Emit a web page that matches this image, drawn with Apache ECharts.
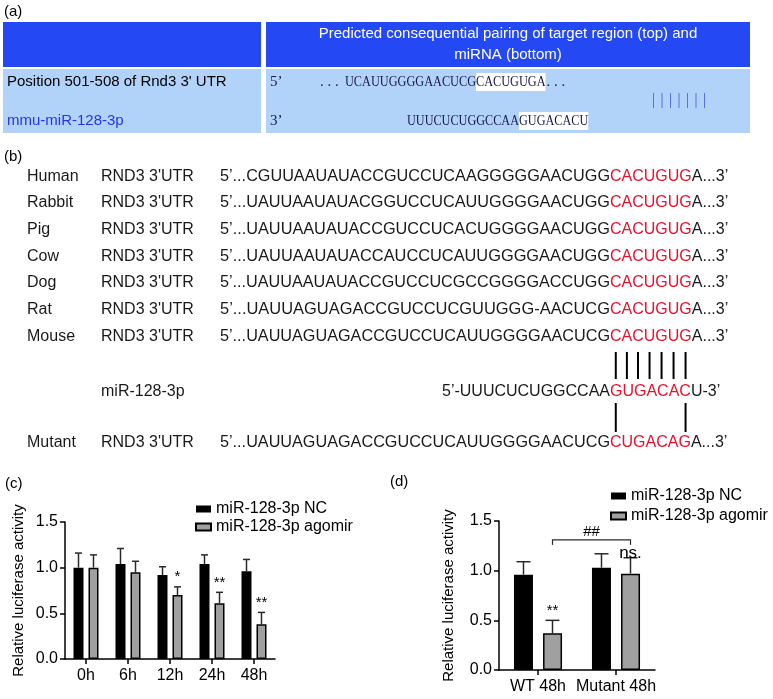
<!DOCTYPE html>
<html><head><meta charset="utf-8">
<script src="https://cdn.jsdelivr.net/npm/echarts@6/dist/echarts.min.js"></script>
<style>html,body{margin:0;padding:0;background:#fff}#c{width:773px;height:699px}</style>
</head><body><div id="c"></div>
<script>
// ================= DATA =================
const seriesNames = ['miR-128-3p NC', 'miR-128-3p agomir'];

// panel (c)
const timeCategories = ['0h', '6h', '12h', '24h', '48h'];
const ncValuesC  = [1.00, 1.04, 0.92, 1.04, 0.96];
const ncErrC     = [0.16, 0.17, 0.09, 0.10, 0.13];
const agoValuesC = [1.00, 0.95, 0.70, 0.61, 0.38];
const agoErrC    = [0.14, 0.12, 0.09, 0.12, 0.13];
const agoSigC    = ['', '', '*', '**', '**'];

// panel (d)
const constructCategories = ['WT 48h', 'Mutant 48h'];
const ncValuesD  = [0.96, 1.03];
const ncErrD     = [0.13, 0.14];
const agoValuesD = [0.37, 0.97];
const agoErrD    = [0.13, 0.16];
const agoSigD    = ['**', 'ns.'];
const bracketFromD  = [0];
const bracketToD    = [1];
const bracketValueD = [1.31];
const bracketLabelD = ['##'];

const yTicks = ['0.0', '0.5', '1.0', '1.5'];

// panel (a)
const tableHeader = ['Predicted consequential pairing of target region (top) and', 'miRNA (bottom)'];
const tableRowLabels = ["Position 501-508 of Rnd3 3' UTR", 'mmu-miR-128-3p'];
const targetSeq = ['UCAUUGGGGAACUCG', 'CACUGUGA'];
const mirnaSeq  = ['UUUCUCUGGCCAA', 'GUGACACU'];

// panel (b)
const speciesNames = ['Human', 'Rabbit', 'Pig', 'Cow', 'Dog', 'Rat', 'Mouse'];
const utrPrefix = [
  'CGUUAAUAUACCGUCCUCAAGGGGGAACUGG',
  'UAUUAAUAUACGGUCCUCAUUGGGGAACUGG',
  'UAUUAAUAUACCGUCCUCACUGGGGAACUGG',
  'UAUUAAUAUACCAUCCUCAUUGGGGAACUGG',
  'UAUUAAUAUACCGUCCUCGCCGGGGACCUGG',
  'UAUUAGUAGACCGUCCUCGUUGGG-AACUCG',
  'UAUUAGUAGACCGUCCUCAUUGGGGAACUCG'
];
const utrSite = ['CACUGUG', 'CACUGUG', 'CACUGUG', 'CACUGUG', 'CACUGUG', 'CACUGUG', 'CACUGUG'];
const mirName = 'miR-128-3p';
const mirParts = ['5’-UUUCUCUGGCCAA', 'GUGACAC', 'U-3’'];
const mutantName = 'Mutant';
const mutantPrefix = 'UAUUAGUAGACCGUCCUCAUUGGGGAACUCG';
const mutantSite = 'CUGACAG';

// ================= LAYOUT / STYLE =================
const SANS = '"Liberation Sans", Arial, sans-serif';
const SERIF = '"Liberation Serif", "Times New Roman", serif';
const RED = '#e8112d';
const mctx = document.createElement('canvas').getContext('2d');
function tw(t, font) { mctx.font = font; return mctx.measureText(t).width; }

const g = [];
function txt(x, y, text, font, fill, extra) {
  const o = { type: 'text', x: x, y: y, silent: true,
    style: Object.assign({ x: 0, y: 0, text: text, font: font, fill: fill || '#000', verticalAlign: 'middle', align: 'left' }, (extra && extra.style) || {}) };
  if (extra && extra.scaleX) o.scaleX = extra.scaleX;
  g.push(o);
}
function rect(x, y, w, h, fill) { g.push({ type: 'rect', silent: true, shape: { x: x, y: y, width: w, height: h }, style: { fill: fill } }); }
function vline(x, y1, y2, stroke, w) { g.push({ type: 'line', silent: true, shape: { x1: x, y1: y1, x2: x, y2: y2 }, style: { stroke: stroke, lineWidth: w } }); }

// ---- panel (a)
const F15 = '15px ' + SANS;
txt(4, 12, '(a)', F15, '#000');
const HEAD = '#2449f4', LIGHT = '#b2d3f9';
rect(3, 22, 258, 45, HEAD); rect(266, 22, 484, 45, HEAD);
rect(3, 69, 258, 64, LIGHT); rect(266, 69, 484, 64, LIGHT);
txt(508, 34, tableHeader[0], F15, '#fff', { style: { align: 'center' } });
txt(508, 55, tableHeader[1], F15, '#fff', { style: { align: 'center' } });
txt(7, 82, tableRowLabels[0], F15, '#000');
txt(7, 121, tableRowLabels[1], F15, '#2b34e8');
const FS = '15px ' + SERIF, SEQC = '#1a1a4a';
txt(270, 82, '5’', FS, SEQC);
txt(270, 121, '3’', FS, SEQC);
const sA = (476 - 345) / tw(targetSeq[0], FS);
txt(320, 82, '. . .', FS, SEQC);
txt(345, 82, targetSeq[0], FS, SEQC, { scaleX: sA });
const wT2 = tw(targetSeq[1], FS) * sA;
rect(476, 73, wT2, 18, '#fff');
txt(476, 82, targetSeq[1], FS, SEQC, { scaleX: sA });
txt(476 + wT2 + 1, 82, '. . .', FS, SEQC);
const sB = (519 - 407) / tw(mirnaSeq[0], FS);
txt(407, 121, mirnaSeq[0], FS, SEQC, { scaleX: sB });
const wM2 = tw(mirnaSeq[1], FS) * sB;
rect(519, 112, wM2, 18, '#fff');
txt(519, 121, mirnaSeq[1], FS, SEQC, { scaleX: sB });
for (let i = 0; i < 7; i++) vline(653.5 + i * 8.5, 93, 108, '#5b6fe6', 1);

// ---- panel (b)
const F16 = '16px ' + SANS;
txt(4, 157, '(b)', F15, '#000');
const rowYs = [177, 203, 230, 257, 283, 310, 337];
const LEFT_X = 220, SITE_X = 610;
const TXT = '#1a1a1a';
function seqRow(y, name, pre, site) {
  txt(27, y, name, F16, TXT);
  txt(101, y, "RND3 3'UTR", F16, TXT);
  const p = '5’...' + pre;
  const sp = (SITE_X - LEFT_X) / tw(p, F16);
  txt(SITE_X, y, p, F16, TXT, { scaleX: sp, style: { align: 'right' } });
  txt(SITE_X, y, site, F16, RED);
  txt(SITE_X + tw(site, F16), y, 'A...3’', F16, TXT);
}
speciesNames.forEach((n, i) => seqRow(rowYs[i], n, utrPrefix[i], utrSite[i]));
// miRNA row
txt(101, 392, mirName, F16, TXT);
txt(SITE_X, 392, mirParts[0], F16, TXT, { style: { align: 'right' } });
txt(SITE_X, 392, mirParts[1], F16, RED);
txt(SITE_X + tw(mirParts[1], F16), 392, mirParts[2], F16, TXT);
seqRow(443, mutantName, mutantPrefix, mutantSite);
// pairing lines
const site = utrSite[6];
const centers = [];
for (let i = 0; i < site.length; i++) centers.push(SITE_X + tw(site.slice(0, i), F16) + tw(site[i], F16) / 2);
centers.forEach(c => vline(c, 352, 379, '#000', 2));
vline(centers[0], 403, 432, '#000', 2);
vline(centers[centers.length - 1], 403, 432, '#000', 2);

// ---- panel labels for charts
txt(5, 484, '(c)', F15, '#000');
txt(390, 482, '(d)', F15, '#000');

// ================= CHART =================
function errSeries(xi, values, errs, offset, cap, sig) {
  return {
    type: 'custom', xAxisIndex: xi, yAxisIndex: xi, silent: true, z: 5,
    data: values.map((v, i) => [i, v, v + errs[i]]),
    renderItem: function (params, api) {
      const b = api.coord([api.value(0), api.value(1)]);
      const t = api.coord([api.value(0), api.value(2)]);
      const x = b[0] + offset;
      const ch = [
        { type: 'line', shape: { x1: x, y1: b[1], x2: x, y2: t[1] }, style: { stroke: '#2a2a2a', lineWidth: 1.5 } },
        { type: 'line', shape: { x1: x - cap / 2, y1: t[1], x2: x + cap / 2, y2: t[1] }, style: { stroke: '#2a2a2a', lineWidth: 1.5 } }
      ];
      if (sig && sig[params.dataIndex]) {
        const s = sig[params.dataIndex];
        const star = s.indexOf('*') >= 0;
        ch.push({ type: 'text', x: x, y: t[1] + (star ? -2 : 4),
          style: { text: s, font: (star ? '15px ' : '17px ') + SANS, fill: '#000', align: 'center', verticalAlign: 'bottom' } });
      }
      return { type: 'group', children: ch };
    }
  };
}

const axisCommon = {
  axisLine: { show: true, lineStyle: { color: '#000', width: 1.5 } },
  axisTick: { show: true, length: 5, lineStyle: { color: '#000', width: 1.5 } },
  splitLine: { show: false }
};
function yAxisDef(gi, gap) {
  return Object.assign({}, axisCommon, {
    gridIndex: gi, type: 'value', min: 0, max: 1.5, interval: 0.5,
    axisLabel: { formatter: v => yTicks[Math.round(v / 0.5)], fontSize: 16, color: '#000', fontFamily: SANS, margin: 7 },
    name: 'Relative luciferase activity', nameLocation: 'middle', nameGap: gap,
    nameTextStyle: { fontSize: 15, color: '#000', fontFamily: SANS }
  });
}
function xAxisDef(gi, cats) {
  return Object.assign({}, axisCommon, {
    gridIndex: gi, type: 'category', data: cats,
    axisTick: { show: true, alignWithLabel: true, length: 5, lineStyle: { color: '#000', width: 1.5 } },
    axisLabel: { interval: 0, fontSize: 16, color: '#000', fontFamily: SANS, margin: 9 }
  });
}

const legendCommon = {
  orient: 'vertical', icon: 'rect', itemWidth: 15, itemHeight: 7,
  selectedMode: false, data: seriesNames,
  textStyle: { fontSize: 16, color: '#000', fontFamily: SANS }
};
const agoStyle = { color: '#a0a0a0', borderColor: '#000', borderWidth: 1.5 };

const option = {
  animation: false,
  backgroundColor: '#fff',
  grid: [
    { left: 65, top: 522, width: 210, height: 137 },
    { left: 499, top: 521, width: 156, height: 149 }
  ],
  xAxis: [xAxisDef(0, timeCategories), xAxisDef(1, constructCategories)],
  yAxis: [yAxisDef(0, 39), yAxisDef(1, 43)],
  legend: [
    Object.assign({ left: 190, top: 496, itemGap: 2 }, legendCommon),
    Object.assign({ left: 605, top: 483, itemGap: 4 }, legendCommon)
  ],
  series: [
    { type: 'bar', name: seriesNames[0], xAxisIndex: 0, yAxisIndex: 0, data: ncValuesC, barWidth: 10, barGap: '50%', itemStyle: { color: '#000' } },
    { type: 'bar', name: seriesNames[1], xAxisIndex: 0, yAxisIndex: 0, data: agoValuesC, barWidth: 10, barGap: '50%', itemStyle: agoStyle },
    errSeries(0, ncValuesC, ncErrC, -7.5, 7),
    errSeries(0, agoValuesC, agoErrC, 7.5, 7, agoSigC),
    { type: 'bar', name: seriesNames[0], xAxisIndex: 1, yAxisIndex: 1, data: ncValuesD, barWidth: 19, barGap: '53%', itemStyle: { color: '#000' } },
    { type: 'bar', name: seriesNames[1], xAxisIndex: 1, yAxisIndex: 1, data: agoValuesD, barWidth: 19, barGap: '53%', itemStyle: agoStyle },
    errSeries(1, ncValuesD, ncErrD, -14.5, 14),
    errSeries(1, agoValuesD, agoErrD, 14.5, 14, agoSigD),
    {
      type: 'custom', xAxisIndex: 1, yAxisIndex: 1, silent: true, z: 6,
      data: bracketValueD.map((v, i) => [bracketFromD[i], bracketToD[i], v]),
      renderItem: function (params, api) {
        const a = api.coord([api.value(0), api.value(2)]);
        const b = api.coord([api.value(1), api.value(2)]);
        const x1 = a[0] + 14.5, x2 = b[0] + 14.5, y = a[1];
        const st = { stroke: '#2a2a2a', lineWidth: 1.2 };
        return { type: 'group', children: [
          { type: 'line', shape: { x1: x1, y1: y, x2: x2, y2: y }, style: st },
          { type: 'line', shape: { x1: x1, y1: y - 0.5, x2: x1, y2: y + 5 }, style: st },
          { type: 'line', shape: { x1: x2, y1: y - 0.5, x2: x2, y2: y + 5 }, style: st },
          { type: 'text', x: (x1 + x2) / 2, y: y - 1, style: { text: bracketLabelD[params.dataIndex], font: '15px ' + SANS, fill: '#000', align: 'center', verticalAlign: 'bottom' } }
        ] };
      }
    }
  ],
  graphic: g
};
const chart = echarts.init(document.getElementById('c'), null, { renderer: 'canvas' });
chart.setOption(option);
</script></body></html>
